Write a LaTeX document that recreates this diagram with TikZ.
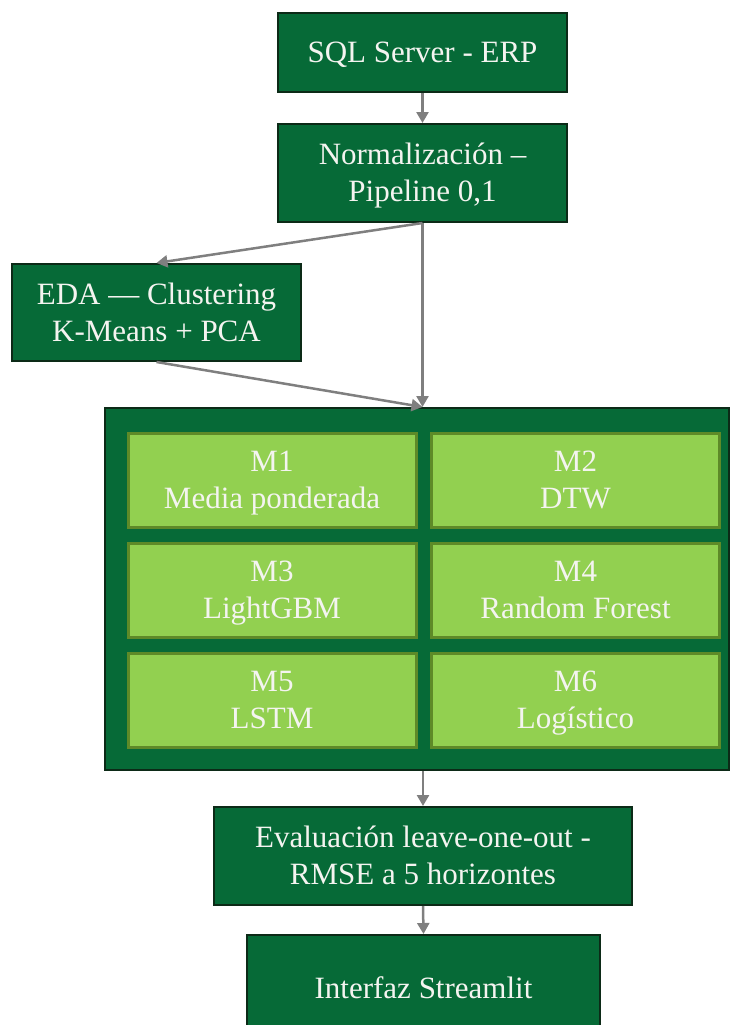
\documentclass[tikz,border=0pt]{standalone}
\usepackage{fontspec}
\setmainfont{Liberation Serif}
\usetikzlibrary{arrows.meta,calc}
\definecolor{dkgreen}{HTML}{066A37}
\definecolor{dkborder}{HTML}{0C2A17}
\definecolor{ltgreen}{HTML}{92D050}
\definecolor{ltborder}{HTML}{5E8A28}
\definecolor{arrgray}{HTML}{7F7F7F}
\definecolor{txt}{HTML}{F4F4F0}
\newcommand\lnstrut{\rule[-8.5pt]{0pt}{37pt}}
\tikzset{
  darkbox/.style={draw=dkborder, line width=2pt, fill=dkgreen, text=txt, align=center, inner sep=0pt,
    font=\fontsize{31}{37}\selectfont},
  modelbox/.style={draw=ltborder, line width=3pt, fill=ltgreen, text=txt, align=center, inner sep=0pt,
    minimum width=288pt, minimum height=94pt, font=\fontsize{31}{37}\selectfont},
  flow/.style={draw=arrgray, line width=2.5pt, -{Triangle[length=11pt,width=12pt]}}
}
\begin{document}
\begin{tikzpicture}[x=1pt,y=-1pt]
\useasboundingbox (0,0) rectangle (730,1025);
\clip (0,0) rectangle (730,1025);
\node[darkbox, minimum width=289pt, minimum height=79pt] (sql) at (422.5,52.5) {\lnstrut SQL Server - ERP};
\node[darkbox, minimum width=289pt, minimum height=98pt] (norm) at (422.5,173) {\lnstrut Normalización –\\\lnstrut Pipeline 0,1};
\node[darkbox, minimum width=289pt, minimum height=97pt] (eda) at (156.5,312.5) {\lnstrut EDA — Clustering\\\lnstrut K-Means + PCA};
\node[darkbox, minimum width=624pt, minimum height=362pt] (big) at (417,589) {};
\node[modelbox] (m1) at (272,480) {\lnstrut M1\\\lnstrut Media ponderada};
\node[modelbox] (m2) at (575.5,480) {\lnstrut M2\\\lnstrut DTW};
\node[modelbox] (m3) at (272,590) {\lnstrut M3\\\lnstrut LightGBM};
\node[modelbox] (m4) at (575.5,590) {\lnstrut M4\\\lnstrut Random Forest};
\node[modelbox] (m5) at (272,700) {\lnstrut M5\\\lnstrut LSTM};
\node[modelbox] (m6) at (575.5,700) {\lnstrut M6\\\lnstrut Logístico};
\node[darkbox, minimum width=418pt, minimum height=98pt] (eval) at (423,856) {\lnstrut Evaluación leave-one-out -\\\lnstrut RMSE a 5 horizontes};
\node[darkbox, minimum width=353pt, minimum height=106pt] (ui) at (423.5,988) {\lnstrut Interfaz Streamlit};
\coordinate (bigin) at (norm.south |- big.north);
\coordinate (bigout) at (eval.north |- big.south);
\draw[flow] (sql.south) -- (norm.north);
\draw[flow] (norm.south) -- (eda.north);
\draw[flow] (norm.south) -- (bigin);
\draw[flow] (eda.south) -- (bigin);
\draw[flow] (bigout) -- (eval.north);
\draw[flow] (eval.south) -- (ui.north);
\end{tikzpicture}
\end{document}
